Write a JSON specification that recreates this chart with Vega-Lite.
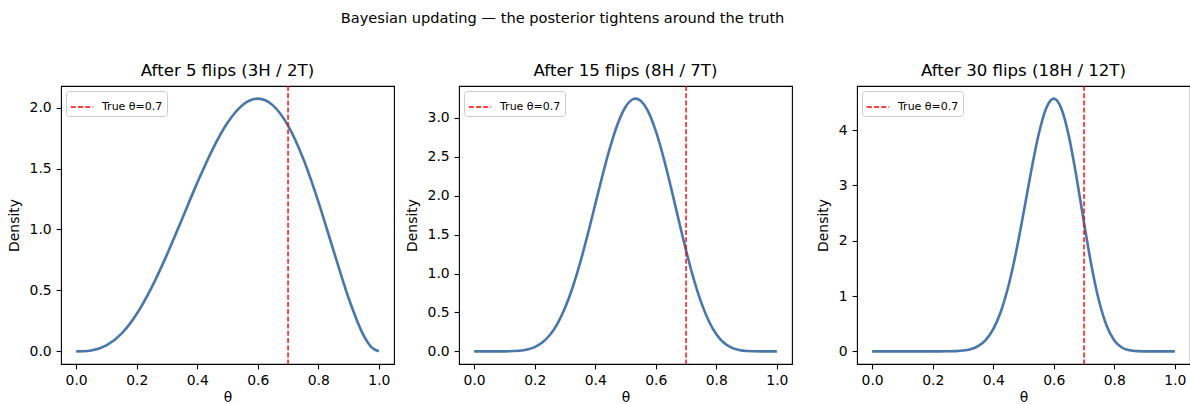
{
  "$schema": "https://vega.github.io/schema/vega-lite/v6.json",
  "background": "white",
  "padding": {"left": 6, "top": 10, "right": 0, "bottom": 2},
  "title": {"text": "Bayesian updating — the posterior tightens around the truth", "fontSize": 14.6, "font": "DejaVu Sans", "fontWeight": "normal", "anchor": "middle", "offset": 37, "dx": -36},
  "datasets": {
    "p1": [
      {"theta": 0, "density": 0}, {"theta": 0.025, "density": 0.0009}, {"theta": 0.05, "density": 0.0068}, {"theta": 0.1, "density": 0.0486},
      {"theta": 0.15, "density": 0.1463}, {"theta": 0.2, "density": 0.3072}, {"theta": 0.25, "density": 0.5273}, {"theta": 0.3, "density": 0.7938},
      {"theta": 0.35, "density": 1.0869}, {"theta": 0.4, "density": 1.3824}, {"theta": 0.45, "density": 1.6539}, {"theta": 0.5, "density": 1.875},
      {"theta": 0.55, "density": 2.0215}, {"theta": 0.575, "density": 2.0603}, {"theta": 0.6, "density": 2.0736}, {"theta": 0.625, "density": 2.0599},
      {"theta": 0.65, "density": 2.0185}, {"theta": 0.7, "density": 1.8522}, {"theta": 0.75, "density": 1.582}, {"theta": 0.8, "density": 1.2288},
      {"theta": 0.85, "density": 0.8291}, {"theta": 0.9, "density": 0.4374}, {"theta": 0.95, "density": 0.1286}, {"theta": 0.975, "density": 0.0348},
      {"theta": 1, "density": 0}
    ],
    "p2": [
      {"theta": 0, "density": 0}, {"theta": 0.05, "density": 0}, {"theta": 0.1, "density": 0.0005}, {"theta": 0.15, "density": 0.0085},
      {"theta": 0.175, "density": 0.0236}, {"theta": 0.2, "density": 0.0553}, {"theta": 0.225, "density": 0.1136}, {"theta": 0.25, "density": 0.2097},
      {"theta": 0.275, "density": 0.3546}, {"theta": 0.3, "density": 0.5563}, {"theta": 0.325, "density": 0.8182}, {"theta": 0.35, "density": 1.1366},
      {"theta": 0.375, "density": 1.5}, {"theta": 0.4, "density": 1.8889}, {"theta": 0.425, "density": 2.2775}, {"theta": 0.45, "density": 2.6357},
      {"theta": 0.475, "density": 2.9331}, {"theta": 0.5, "density": 3.1421}, {"theta": 0.525, "density": 3.2419}, {"theta": 0.5333, "density": 3.2487},
      {"theta": 0.55, "density": 3.2214}, {"theta": 0.575, "density": 3.0811}, {"theta": 0.6, "density": 2.8333}, {"theta": 0.625, "density": 2.4999},
      {"theta": 0.65, "density": 2.1109}, {"theta": 0.675, "density": 1.6993}, {"theta": 0.7, "density": 1.2981}, {"theta": 0.725, "density": 0.9348},
      {"theta": 0.75, "density": 0.6291}, {"theta": 0.775, "density": 0.3911}, {"theta": 0.8, "density": 0.2211}, {"theta": 0.825, "density": 0.1111},
      {"theta": 0.85, "density": 0.0479}, {"theta": 0.875, "density": 0.0169}, {"theta": 0.9, "density": 0.0044}, {"theta": 0.95, "density": 0.0001},
      {"theta": 1, "density": 0}
    ],
    "p3": [
      {"theta": 0, "density": 0}, {"theta": 0.05, "density": 0}, {"theta": 0.1, "density": 0}, {"theta": 0.15, "density": 0},
      {"theta": 0.2, "density": 0.00005}, {"theta": 0.25, "density": 0.0012}, {"theta": 0.275, "density": 0.0046}, {"theta": 0.3, "density": 0.0144},
      {"theta": 0.325, "density": 0.0393}, {"theta": 0.35, "density": 0.0947}, {"theta": 0.375, "density": 0.2049}, {"theta": 0.4, "density": 0.4011},
      {"theta": 0.425, "density": 0.7168}, {"theta": 0.45, "density": 1.1763}, {"theta": 0.475, "density": 1.7813}, {"theta": 0.5, "density": 2.4971},
      {"theta": 0.525, "density": 3.2474}, {"theta": 0.55, "density": 3.9212}, {"theta": 0.575, "density": 4.396}, {"theta": 0.6, "density": 4.5689},
      {"theta": 0.625, "density": 4.3912}, {"theta": 0.65, "density": 3.8869}, {"theta": 0.675, "density": 3.1508}, {"theta": 0.7, "density": 2.3204},
      {"theta": 0.725, "density": 1.5361}, {"theta": 0.75, "density": 0.901}, {"theta": 0.775, "density": 0.4592}, {"theta": 0.8, "density": 0.1979},
      {"theta": 0.825, "density": 0.0693}, {"theta": 0.85, "density": 0.0187}, {"theta": 0.875, "density": 0.0035}, {"theta": 0.9, "density": 0.0004},
      {"theta": 0.95, "density": 0}, {"theta": 1, "density": 0}
    ],
    "truth": [{"theta": 0.7, "label": "True θ=0.7"}]
  },
  "hconcat": [
    {
      "width": 333, "height": 278,
      "title": "After 5 flips (3H / 2T)",
      "layer": [
        {"data": {"name": "p1"}, "mark": {"type": "line", "color": "#4a77aa", "strokeWidth": 2.6, "interpolate": "monotone"},
         "encoding": {
           "x": {"field": "theta", "type": "quantitative", "scale": {"domain": [-0.05, 1.05], "nice": false, "zero": false}, "axis": {"values": [0, 0.2, 0.4, 0.6, 0.8, 1], "format": ".1f", "title": "θ"}},
           "y": {"field": "density", "type": "quantitative", "scale": {"domain": [-0.1037, 2.1773], "nice": false, "zero": false}, "axis": {"values": [0, 0.5, 1, 1.5, 2], "format": ".1f", "title": "Density"}}
         }},
        {"data": {"name": "truth"}, "mark": {"type": "rule", "strokeDash": [5, 2.2], "strokeWidth": 1.4},
         "encoding": {
           "x": {"field": "theta", "type": "quantitative"},
           "color": {"field": "label", "type": "nominal", "scale": {"range": ["#ff0000"]}, "legend": {"title": null}}
         }}
      ]
    },
    {
      "width": 333, "height": 278,
      "title": "After 15 flips (8H / 7T)",
      "layer": [
        {"data": {"name": "p2"}, "mark": {"type": "line", "color": "#4a77aa", "strokeWidth": 2.6, "interpolate": "monotone"},
         "encoding": {
           "x": {"field": "theta", "type": "quantitative", "scale": {"domain": [-0.05, 1.05], "nice": false, "zero": false}, "axis": {"values": [0, 0.2, 0.4, 0.6, 0.8, 1], "format": ".1f", "title": "θ"}},
           "y": {"field": "density", "type": "quantitative", "scale": {"domain": [-0.1624, 3.4112], "nice": false, "zero": false}, "axis": {"values": [0, 0.5, 1, 1.5, 2, 2.5, 3], "format": ".1f", "title": "Density"}}
         }},
        {"data": {"name": "truth"}, "mark": {"type": "rule", "strokeDash": [5, 2.2], "strokeWidth": 1.4},
         "encoding": {
           "x": {"field": "theta", "type": "quantitative"},
           "color": {"field": "label", "type": "nominal", "scale": {"range": ["#ff0000"]}, "legend": {"title": null}}
         }}
      ]
    },
    {
      "width": 333, "height": 278,
      "title": "After 30 flips (18H / 12T)",
      "layer": [
        {"data": {"name": "p3"}, "mark": {"type": "line", "color": "#4a77aa", "strokeWidth": 2.6, "interpolate": "monotone"},
         "encoding": {
           "x": {"field": "theta", "type": "quantitative", "scale": {"domain": [-0.05, 1.05], "nice": false, "zero": false}, "axis": {"values": [0, 0.2, 0.4, 0.6, 0.8, 1], "format": ".1f", "title": "θ"}},
           "y": {"field": "density", "type": "quantitative", "scale": {"domain": [-0.2284, 4.7974], "nice": false, "zero": false}, "axis": {"values": [0, 1, 2, 3, 4], "format": "d", "title": "Density"}}
         }},
        {"data": {"name": "truth"}, "mark": {"type": "rule", "strokeDash": [5, 2.2], "strokeWidth": 1.4},
         "encoding": {
           "x": {"field": "theta", "type": "quantitative"},
           "color": {"field": "label", "type": "nominal", "scale": {"range": ["#ff0000"]}, "legend": {"title": null}}
         }}
      ]
    }
  ],
  "spacing": 65,
  "bounds": "flush",
  "resolve": {"scale": {"color": "independent"}, "legend": {"color": "independent"}},
  "config": {
    "font": "DejaVu Sans",
    "view": {"stroke": "black", "strokeWidth": 1.1},
    "axis": {
      "domain": false, "grid": false, "ticks": true, "tickColor": "black", "tickSize": 4.9, "tickWidth": 1.1,
      "labelFont": "DejaVu Sans", "labelFontSize": 13.9, "labelColor": "black", "labelPadding": 4.9,
      "titleFont": "DejaVu Sans", "titleFontSize": 13.9, "titleFontWeight": "normal", "titleColor": "black"
    },
    "axisY": {"titlePadding": 8, "labelFlush": false},
    "axisX": {"titlePadding": 3, "labelFlush": false},
    "title": {"font": "DejaVu Sans", "fontSize": 16.6, "fontWeight": "normal", "color": "black", "offset": 6},
    "legend": {
      "orient": "top-left", "offset": 5, "padding": 4, "strokeColor": "#cccccc", "fillColor": "rgba(255,255,255,0.8)",
      "cornerRadius": 3, "symbolType": "stroke", "symbolStrokeWidth": 1.4, "symbolDash": [5, 2.2], "symbolSize": 500,
      "labelFont": "DejaVu Sans", "labelFontSize": 11, "labelColor": "black", "labelOffset": 8
    }
  }
}
